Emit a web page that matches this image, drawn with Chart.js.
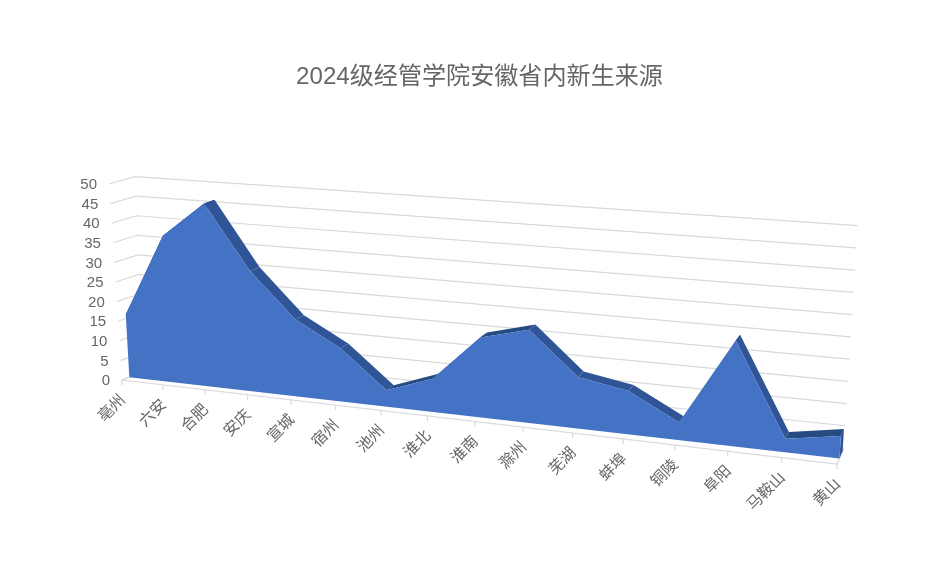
<!DOCTYPE html>
<html>
<head>
<meta charset="utf-8">
<title>2024级经管学院安徽省内新生来源</title>
<script src="https://cdn.jsdelivr.net/npm/chart.js@4"></script>
<style>
  html, body { margin: 0; padding: 0; background: #fff; }
  #wrap { width: 934px; height: 580px; }
</style>
</head>
<body>
<div id="wrap"><canvas id="chart"></canvas></div>
<script>
const titleText = '2024级经管学院安徽省内新生来源';
const categories = ['亳州', '六安', '合肥', '安庆', '宣城', '宿州', '池州', '淮北', '淮南', '滁州', '芜湖', '蚌埠', '铜陵', '阜阳', '马鞍山', '黄山'];
const students = [16, 37, 46, 30, 19, 13, 4, 8, 19, 22, 12, 10, 4, 24, 3, 5];
const valueMax = 50;
const valueStep = 5;

const textColor = '#666666';
const gridColor = '#d9d9d9';
const labelFont = '"Noto Sans CJK SC", sans-serif';
const numberFont = '"Liberation Sans", sans-serif';

// corners of the 3D box on the page: [x, y] for value 0 / max, front / back
const leftEdge = { front0: [122, 380], frontMax: [109, 184], back0: [143, 372], backMax: [135, 176.7] };
const rightEdge = { front0: [837, 464], frontMax: [851, 239], back0: [844, 448], backMax: [858, 225.7] };
const rightWeight = 0.8523; // perspective, the right side is closer
const seriesFront = 0.35;
const seriesBack = 0.8;

function mix(a, b, t) {
  return [a[0] + (b[0] - a[0]) * t, a[1] + (b[1] - a[1]) * t];
}

function edgePoint(edge, v, d) {
  return mix(mix(edge.front0, edge.frontMax, v), mix(edge.back0, edge.backMax, v), d);
}

// u: along categories, v: along values, d: depth, all 0..1
function project(u, v, d) {
  const t = u * rightWeight / ((1 - u) + u * rightWeight);
  return mix(edgePoint(leftEdge, v, d), edgePoint(rightEdge, v, d), t);
}

function strokeLine(ctx, pts) {
  ctx.beginPath();
  pts.forEach((p, i) => i ? ctx.lineTo(p[0], p[1]) : ctx.moveTo(p[0], p[1]));
  ctx.stroke();
}

function fillPoly(ctx, pts, color) {
  ctx.beginPath();
  pts.forEach((p, i) => i ? ctx.lineTo(p[0], p[1]) : ctx.moveTo(p[0], p[1]));
  ctx.closePath();
  ctx.fillStyle = color;
  ctx.fill();
}

const box3d = {
  id: 'box3d',
  beforeDatasetsDraw(chart) {
    const ctx = chart.ctx;
    const xs = chart.scales.x;
    const ys = chart.scales.y;
    const toU = px => (px - xs.left) / (xs.right - xs.left);
    const toV = py => (ys.bottom - py) / (ys.bottom - ys.top);

    ctx.save();
    ctx.lineWidth = 1.2;
    ctx.strokeStyle = gridColor;

    // walls and value labels
    ctx.font = '15px ' + numberFont;
    ctx.textAlign = 'right';
    ctx.textBaseline = 'middle';
    ys.ticks.forEach(tick => {
      const v = toV(ys.getPixelForValue(tick.value));
      strokeLine(ctx, [project(0, v, 0), project(0, v, 1), project(1, v, 1)]);
      const p = project(0, v, 0);
      ctx.fillStyle = textColor;
      ctx.fillText(tick.label, p[0] - 12, p[1] + 1);
    });

    // floor and category ticks
    strokeLine(ctx, [project(0, 0, 1), project(0, 0, 0), project(1, 0, 0), project(1, 0, 1)]);
    ctx.font = '15.5px ' + labelFont;
    xs.ticks.forEach((tick, i) => {
      const p = project(toU(xs.getPixelForValue(i)), 0, 0);
      strokeLine(ctx, [p, [p[0], p[1] + 5]]);
      ctx.save();
      ctx.translate(p[0], p[1] + 16.5);
      ctx.rotate(-Math.PI / 4);
      ctx.fillStyle = textColor;
      ctx.fillText(tick.label, 0, 0);
      ctx.restore();
    });

    // the area itself, from the points the line controller placed
    const pts = chart.getDatasetMeta(0).data.map(el => ({ u: toU(el.x), v: toV(el.y) }));
    const front = pts.map(p => project(p.u, p.v, seriesFront));
    const back = pts.map(p => project(p.u, p.v, seriesBack));
    const last = pts[pts.length - 1];

    fillPoly(ctx, [front[front.length - 1], back[back.length - 1], project(last.u, 0, seriesBack), project(last.u, 0, seriesFront)], '#2f5597');
    for (let i = 0; i < pts.length - 1; i++) {
      const rising = pts[i + 1].v > pts[i].v;
      fillPoly(ctx, [front[i], back[i], back[i + 1], front[i + 1]], rising ? '#264a82' : '#2f5597');
    }
    fillPoly(ctx, front.concat([project(last.u, 0, seriesFront), project(pts[0].u, 0, seriesFront)]), '#4472c4');
    ctx.restore();
  }
};

new Chart(document.getElementById('chart'), {
  type: 'line',
  data: {
    labels: categories,
    datasets: [{
      label: '新生人数',
      data: students,
      showLine: false,
      pointRadius: 0,
      backgroundColor: '#4472c4',
      borderColor: '#4472c4'
    }]
  },
  options: {
    responsive: true,
    maintainAspectRatio: false,
    animation: false,
    layout: { padding: { left: 25 } },
    plugins: {
      legend: { display: false },
      tooltip: { enabled: false },
      title: {
        display: true,
        text: titleText,
        color: textColor,
        font: { family: '"Liberation Sans", "Noto Sans CJK SC", sans-serif', size: 24.1, weight: 'normal' },
        padding: { top: 63, bottom: 20 }
      }
    },
    scales: {
      x: { display: false, ticks: { autoSkip: false } },
      y: { display: false, min: 0, max: valueMax, ticks: { stepSize: valueStep } }
    }
  },
  plugins: [box3d]
});
</script>
</body>
</html>
